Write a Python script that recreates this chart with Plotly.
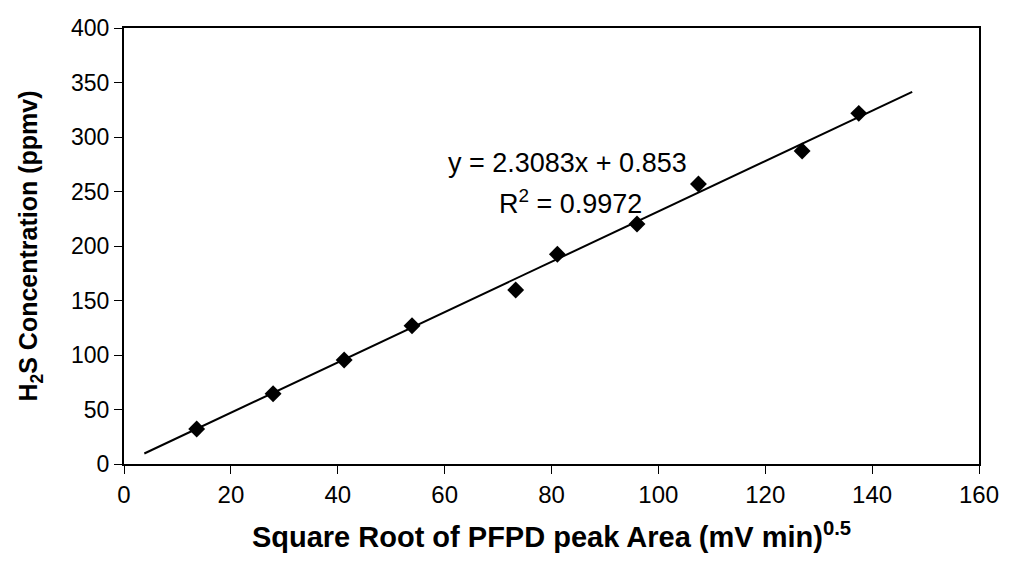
import plotly.graph_objects as go
import numpy as np

# Data
sqrt_area = [13.6, 27.9, 41.2, 53.9, 73.3, 81.1, 96.0, 107.5, 126.9, 137.5]
h2s_ppmv = [32.1, 64.5, 95.4, 126.9, 159.6, 192.4, 220.2, 256.9, 287.2, 321.7]

# Linear trendline as reported on chart
slope = 2.3083
intercept = 0.853
r_squared = 0.9972
trend_x_range = [3.8, 147.5]

x_ticks = [0, 20, 40, 60, 80, 100, 120, 140, 160]
y_ticks = [0, 50, 100, 150, 200, 250, 300, 350, 400]

tx = np.array(trend_x_range)
ty = slope * tx + intercept

FONT = "Liberation Sans, Arial, sans-serif"

fig = go.Figure()
fig.add_trace(go.Scatter(x=tx, y=ty, mode="lines",
                         line=dict(color="black", width=2), showlegend=False,
                         hoverinfo="skip"))
fig.add_trace(go.Scatter(x=sqrt_area, y=h2s_ppmv, mode="markers",
                         marker=dict(symbol="diamond", size=13, color="black"),
                         showlegend=False))

fig.add_annotation(x=83, y=276, xref="x", yref="y", showarrow=False,
                   text=f"y = {slope}x + {intercept}",
                   font=dict(family=FONT, size=27, color="black"))
fig.add_annotation(x=83.5, y=240, xref="x", yref="y", showarrow=False,
                   text=f"R<sup>2</sup> = {r_squared}",
                   font=dict(family=FONT, size=27, color="black"))

fig.update_layout(
    width=1011, height=579,
    margin=dict(l=124, r=28, t=28, b=115),
    paper_bgcolor="white", plot_bgcolor="white",
    font=dict(family=FONT, size=24, color="black"),
    xaxis=dict(range=[0, 160], tickvals=x_ticks, ticks="outside", ticklen=8,
               tickcolor="black", tickwidth=1, showgrid=False, zeroline=False,
               showline=True, linecolor="black", linewidth=2, mirror=True,
               tickfont=dict(size=24),
               title=dict(text="<b>Square Root of PFPD peak Area (mV min)<sup>0.5</sup></b>",
                          font=dict(size=29), standoff=20)),
    yaxis=dict(range=[0, 400], tickvals=y_ticks, ticks="outside", ticklen=8,
               tickcolor="black", tickwidth=1, showgrid=False, zeroline=False,
               showline=True, linecolor="black", linewidth=2, mirror=True,
               tickfont=dict(size=23),
               title=dict(text="<b>H<sub>2</sub>S Concentration (ppmv)</b>",
                          font=dict(size=25), standoff=26)),
)

fig.write_html("out.html")
